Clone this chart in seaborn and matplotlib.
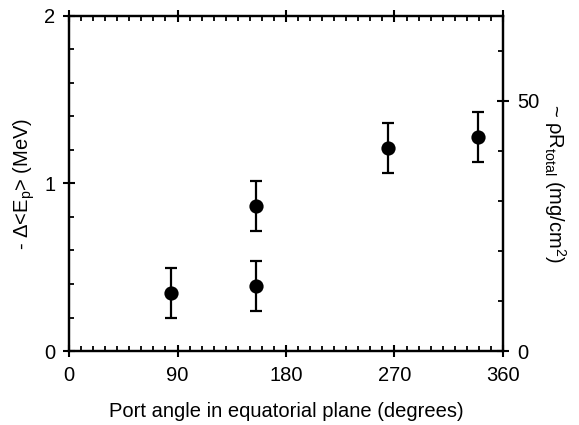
import matplotlib
matplotlib.use("Agg")
import matplotlib.pyplot as plt
import seaborn as sns
import numpy as np
import pandas as pd
from matplotlib.ticker import MultipleLocator

port_angle = [85, 155, 155, 265, 339]
delta_ep = [0.345, 0.39, 0.866, 1.21, 1.276]
err = [0.15, 0.15, 0.15, 0.15, 0.15]
x_ticks = [0, 90, 180, 270, 360]
y_ticks = [0, 1, 2]
rho_ticks = [0, 50]
mev_to_rhor = 33.5

sns.set_theme(style="white")
plt.rcParams['font.family'] = ['Liberation Sans', 'DejaVu Sans']
plt.rcParams['mathtext.fontset'] = 'custom'
plt.rcParams['mathtext.rm'] = 'Liberation Sans'
plt.rcParams['mathtext.it'] = 'Liberation Sans'
plt.rcParams['text.color'] = 'black'
plt.rcParams['axes.labelcolor'] = 'black'
plt.rcParams['xtick.color'] = 'black'
plt.rcParams['ytick.color'] = 'black'

FS = 14.5

df = pd.DataFrame({"angle": port_angle, "dE": delta_ep, "err": err})

fig = plt.figure(figsize=(5.79, 4.25), dpi=100)
ax = fig.add_axes([0.1192, 0.1741, 0.7495, 0.7883])

ax.errorbar(df["angle"], df["dE"], yerr=df["err"], fmt="none", ecolor="black",
            elinewidth=1.6, capsize=4.5, capthick=1.6, zorder=2)
sns.scatterplot(data=df, x="angle", y="dE", ax=ax, color="black", s=105,
                edgecolor="black", linewidth=0, zorder=3, legend=False)

ax.set_xlim(0, 360)
ax.set_ylim(0, 2)
ax.set_xticks(x_ticks)
ax.set_yticks(y_ticks)
ax.set_xticklabels([str(t) for t in x_ticks])
ax.set_yticklabels([str(t) for t in y_ticks])
ax.xaxis.set_minor_locator(MultipleLocator(10))
ax.yaxis.set_minor_locator(MultipleLocator(0.2))

for s in ax.spines.values():
    s.set_linewidth(1.6)
    s.set_color("black")

ax.tick_params(axis="x", which="major", direction="inout", length=8, width=1.5,
               top=True, bottom=True, labelsize=FS, colors="black", pad=7)
ax.tick_params(axis="x", which="minor", direction="in", length=3.8, width=1.3,
               top=True, bottom=True)
ax.tick_params(axis="y", which="major", direction="inout", length=8, width=1.5,
               left=True, right=False, labelsize=FS, colors="black", pad=6)
ax.tick_params(axis="y", which="minor", direction="in", length=3.8, width=1.3,
               left=True, right=False)

ax.set_xlabel("Port angle in equatorial plane (degrees)", fontsize=FS, labelpad=12)
ax.set_ylabel(r"- $\Delta$<E$_\mathrm{p}$> (MeV)", fontsize=FS, labelpad=5)

ax2 = ax.twinx()
ax2.set_ylim(0, 2 * mev_to_rhor)
ax2.set_yticks(rho_ticks)
ax2.set_yticklabels([str(t) for t in rho_ticks])
ax2.yaxis.set_minor_locator(MultipleLocator(10))
for s in ax2.spines.values():
    s.set_linewidth(1.6)
    s.set_color("black")
ax2.tick_params(axis="y", which="major", direction="inout", length=8, width=1.5,
                labelsize=FS, colors="black", pad=6)
ax2.tick_params(axis="y", which="minor", direction="in", length=3.8, width=1.3)
ax2.set_ylabel(r"~ $\rho$R$_\mathrm{total}$ (mg/cm$^2$)", fontsize=FS,
               rotation=270, labelpad=21)
ax2.grid(False)
ax.grid(False)

fig.savefig("out.png", dpi=100)
